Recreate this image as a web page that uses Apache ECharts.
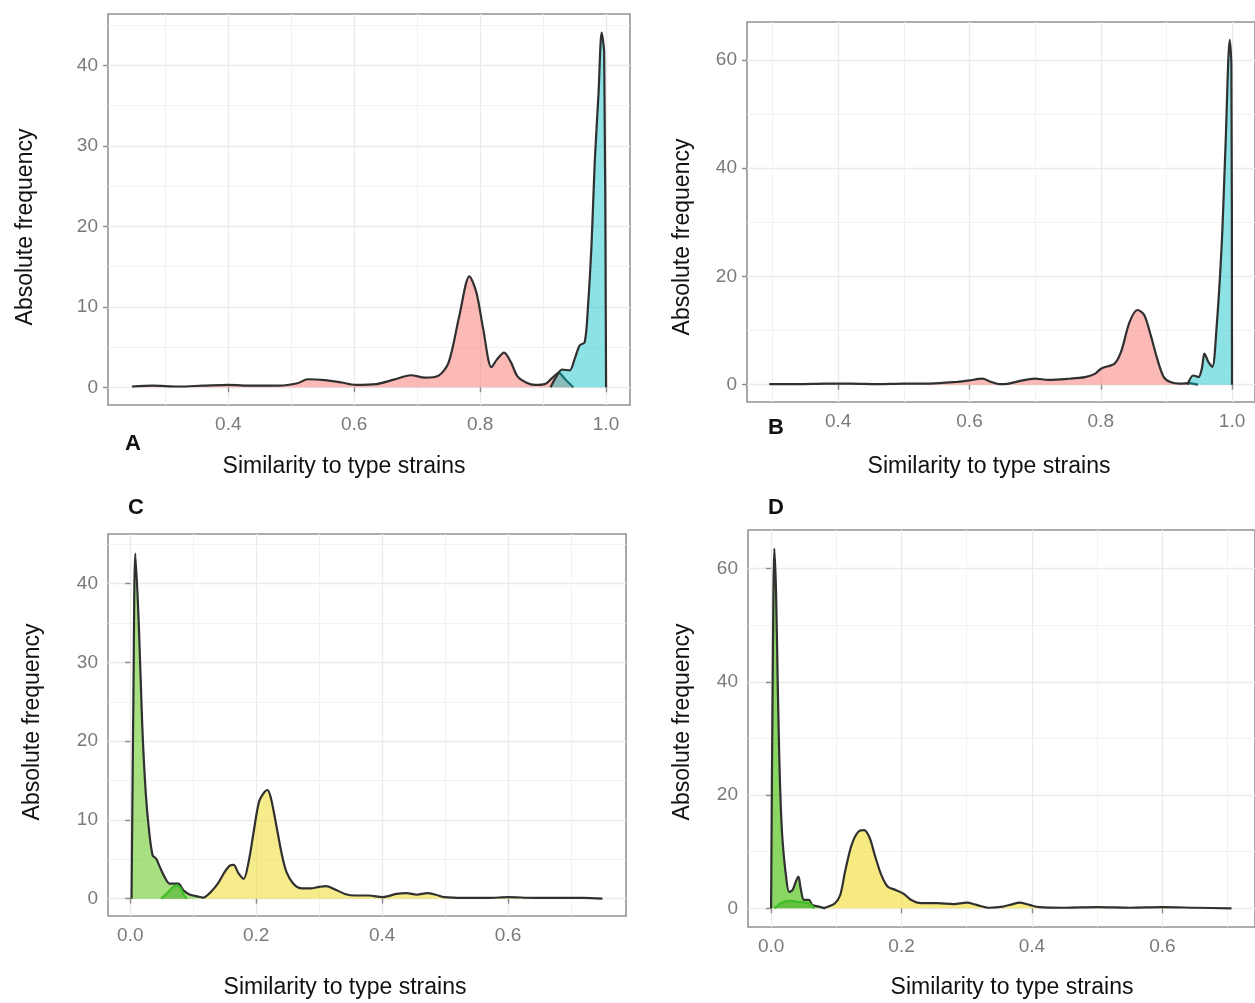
<!DOCTYPE html>
<html>
<head>
<meta charset="utf-8">
<title>Similarity to type strains</title>
<script src="https://cdn.jsdelivr.net/npm/echarts@6/dist/echarts.min.js"></script>
<style>
  html, body { margin: 0; padding: 0; background: #fff; }
  #chart { width: 1255px; height: 1003px; }
</style>
</head>
<body>
<div id="chart"></div>
<script>
// ---- data ----
// panel A
const pinkAX = [0.247, 0.28, 0.32, 0.36, 0.40, 0.44, 0.48, 0.51, 0.526, 0.553, 0.58, 0.602, 0.635, 0.663, 0.69, 0.712, 0.734, 0.75, 0.767, 0.783, 0.794, 0.805, 0.818, 0.827, 0.838, 0.849, 0.859, 0.873, 0.887, 0.903, 0.915, 0.925, 0.935, 0.948];
const pinkAY = [0.1, 0.2, 0.1, 0.2, 0.3, 0.2, 0.2, 0.5, 1.0, 0.9, 0.6, 0.3, 0.4, 0.95, 1.5, 1.2, 1.45, 3.1, 8.9, 13.8, 11.8, 7.2, 2.5, 3.5, 4.3, 3.1, 1.4, 0.6, 0.3, 0.4, 1.2, 1.8, 1.0, 0];
const cyanAX = [0.912, 0.92, 0.93, 0.942, 0.95, 0.958, 0.966, 0.971, 0.977, 0.982, 0.988, 0.993, 0.997, 1.0];
const cyanAY = [0, 1.2, 2.2, 2.1, 3.5, 5.2, 5.6, 9.7, 17.9, 28, 36.5, 44.1, 41.5, 0];

// panel B
const pinkBX = [0.295, 0.34, 0.38, 0.42, 0.46, 0.5, 0.54, 0.58, 0.6, 0.62, 0.631, 0.646, 0.66, 0.681, 0.7, 0.72, 0.751, 0.776, 0.791, 0.801, 0.821, 0.831, 0.844, 0.856, 0.866, 0.876, 0.886, 0.896, 0.906, 0.921, 0.936, 0.948];
const pinkBY = [0.1, 0.1, 0.2, 0.2, 0.1, 0.2, 0.2, 0.5, 0.8, 1.1, 0.6, 0.1, 0.2, 0.8, 1.1, 0.9, 1.1, 1.4, 2.0, 3.0, 3.9, 6.1, 11.6, 13.8, 12.9, 9.2, 4.8, 1.4, 0.5, 0.2, 0.3, 0];
const cyanBX = [0.932, 0.941, 0.949, 0.954, 0.958, 0.964, 0.97, 0.976, 0.984, 0.99, 0.9965, 0.999, 1.0];
const cyanBY = [0, 1.7, 1.4, 3.0, 5.75, 4.2, 3.3, 9.8, 25.2, 43.8, 63.7, 59, 0];

// panel C
const greenCX = [0.002, 0.005, 0.008, 0.0136, 0.019, 0.0245, 0.03, 0.0355, 0.041, 0.046, 0.0545, 0.0627, 0.076, 0.0845, 0.095, 0.106, 0.117];
const greenCY = [0, 26, 43.8, 34.7, 22, 13.5, 8.5, 5.5, 5.1, 4.2, 2.75, 1.9, 1.9, 1.06, 0.5, 0.3, 0.1];
const green2CX = [0.049, 0.06, 0.068, 0.074, 0.08, 0.085, 0.09];
const green2CY = [0, 0.8, 1.5, 1.7, 1.3, 0.5, 0];
const yellowCX = [0.117, 0.128, 0.139, 0.15, 0.158, 0.164, 0.172, 0.18, 0.188, 0.196, 0.2045, 0.2127, 0.218, 0.2236, 0.232, 0.24, 0.248, 0.259, 0.27, 0.286, 0.3, 0.311, 0.3245, 0.341, 0.357, 0.379, 0.401, 0.4227, 0.439, 0.455, 0.472, 0.485, 0.499, 0.53, 0.57, 0.6, 0.64, 0.68, 0.72, 0.75];
const yellowCY = [0.1, 0.85, 1.9, 3.4, 4.2, 4.3, 3.2, 2.5, 4.7, 8.5, 12.3, 13.5, 13.8, 12.7, 9.3, 5.9, 3.4, 1.9, 1.35, 1.3, 1.5, 1.6, 1.2, 0.6, 0.4, 0.4, 0.2, 0.6, 0.7, 0.5, 0.7, 0.5, 0.2, 0.1, 0.1, 0.2, 0.1, 0.1, 0.1, 0];

// panel D
const greenDX = [0.0, 0.0025, 0.005, 0.0076, 0.01, 0.0126, 0.015, 0.0177, 0.0227, 0.0277, 0.0328, 0.0378, 0.0419, 0.0454, 0.0504, 0.058, 0.063, 0.073, 0.083];
const greenDY = [0, 41, 63.5, 55.9, 41, 26.5, 17.6, 11.8, 5.9, 2.9, 3.2, 4.7, 5.6, 3.5, 1.5, 1.5, 0.6, 0.3, 0];
const green2DX = [0.005, 0.015, 0.028, 0.045, 0.058, 0.066];
const green2DY = [0, 0.9, 1.3, 1.1, 0.9, 0];
const yellowDX = [0.08, 0.088, 0.098, 0.106, 0.1135, 0.1235, 0.1336, 0.1427, 0.1513, 0.159, 0.169, 0.179, 0.1916, 0.204, 0.2143, 0.2295, 0.2547, 0.28, 0.3, 0.315, 0.335, 0.3555, 0.3706, 0.3807, 0.396, 0.411, 0.45, 0.5, 0.55, 0.6, 0.65, 0.706];
const yellowDY = [0, 0.3, 0.9, 2.35, 6.5, 11.2, 13.5, 13.8, 12.4, 9.4, 5.9, 3.8, 3.2, 2.5, 1.5, 0.9, 0.9, 0.75, 1.0, 0.6, 0.1, 0.3, 0.75, 1.0, 0.6, 0.2, 0.1, 0.2, 0.1, 0.2, 0.1, 0];

// tick values (major gridlines carry labels, minor ones are plain lines)
const xTicksAB = [0.4, 0.6, 0.8, 1.0];
const xMinorAB = [0.3, 0.5, 0.7, 0.9];
const xTicksCD = [0.0, 0.2, 0.4, 0.6];
const xMinorCD = [0.1, 0.3, 0.5, 0.7];
const yTicksAC = [0, 10, 20, 30, 40];
const yMinorAC = [5, 15, 25, 35, 45];
const yTicksBD = [0, 20, 40, 60];
const yMinorBD = [10, 30, 50];

const xTitle = 'Similarity to type strains';
const yTitle = 'Absolute frequency';

// ---- layout ----
const panels = [
  { left: 108, top: 14,  width: 522, height: 391, xMin: 0.209,  xMax: 1.038, yMin: -2.2, yMax: 46.4, xt: xTicksAB, xm: xMinorAB, yt: yTicksAC, ym: yMinorAC },
  { left: 747, top: 22,  width: 514, height: 380, xMin: 0.261,  xMax: 1.035, yMin: -3.2, yMax: 67.0, xt: xTicksAB, xm: xMinorAB, yt: yTicksBD, ym: yMinorBD },
  { left: 108, top: 534, width: 518, height: 382, xMin: -0.0354, xMax: 0.7874, yMin: -2.2, yMax: 46.3, xt: xTicksCD, xm: xMinorCD, yt: yTicksAC, ym: yMinorAC },
  { left: 748, top: 530, width: 514, height: 397, xMin: -0.0354, xMax: 0.742, yMin: -3.3, yMax: 66.8, xt: xTicksCD, xm: xMinorCD, yt: yTicksBD, ym: yMinorBD }
];

const FONT = '"Liberation Sans", Arial, Helvetica, sans-serif';
const tickColor = '#8a8a8a';
const labelColor = '#7a7a7a';

const grids = [], xAxes = [], yAxes = [];
panels.forEach((p, i) => {
  grids.push({
    left: p.left, top: p.top, width: p.width, height: p.height,
    show: true, backgroundColor: '#fff', borderColor: '#939393', borderWidth: 1.6
  });
  // major
  xAxes.push({
    gridIndex: i, type: 'value', min: p.xMin, max: p.xMax,
    axisLine: { show: false },
    axisTick: { show: true, customValues: p.xt, length: 5, lineStyle: { color: tickColor, width: 1.4 } },
    axisLabel: { customValues: p.xt, fontSize: 19, fontFamily: FONT, color: labelColor, margin: 10,
                 formatter: v => Number(v).toFixed(1) },
    splitLine: { show: true, lineStyle: { color: '#ebebeb', width: 1.3 } }
  });
  // minor
  xAxes.push({
    gridIndex: i, type: 'value', min: p.xMin, max: p.xMax, position: 'top',
    axisLine: { show: false }, axisTick: { show: false, customValues: p.xm },
    axisLabel: { show: false, customValues: p.xm },
    splitLine: { show: true, lineStyle: { color: '#f2f2f2', width: 1 } }
  });
  yAxes.push({
    gridIndex: i, type: 'value', min: p.yMin, max: p.yMax,
    axisLine: { show: false },
    axisTick: { show: true, customValues: p.yt, length: 5, lineStyle: { color: tickColor, width: 1.4 } },
    axisLabel: { customValues: p.yt, fontSize: 19, fontFamily: FONT, color: labelColor, margin: 10 },
    splitLine: { show: true, lineStyle: { color: '#ebebeb', width: 1.3 } }
  });
  yAxes.push({
    gridIndex: i, type: 'value', min: p.yMin, max: p.yMax, position: 'right',
    axisLine: { show: false }, axisTick: { show: false, customValues: p.ym },
    axisLabel: { show: false, customValues: p.ym },
    splitLine: { show: true, lineStyle: { color: '#f2f2f2', width: 1 } }
  });
});

function zip(xs, ys) { return xs.map((x, k) => [x, ys[k]]); }

function density(panel, xs, ys, fill, opacity, line, z) {
  return {
    type: 'line', xAxisIndex: panel * 2, yAxisIndex: panel * 2,
    data: zip(xs, ys), smooth: 0.3, symbol: 'none', silent: true, z: z,
    lineStyle: { color: line || '#303030', width: 2.2 },
    areaStyle: { color: fill, opacity: opacity }
  };
}

const series = [
  density(0, pinkAX, pinkAY, '#F8766D', 0.5, null, 2),
  density(0, cyanAX, cyanAY, '#00BFC4', 0.45, null, 3),
  density(1, pinkBX, pinkBY, '#F8766D', 0.5, null, 2),
  density(1, cyanBX, cyanBY, '#00BFC4', 0.45, null, 3),
  density(2, greenCX, greenCY, '#5CC61A', 0.55, null, 2),
  density(2, yellowCX, yellowCY, '#F0DC2D', 0.55, null, 2),
  density(2, green2CX, green2CY, '#3DA51E', 0.5, '#3fbf25', 3),
  density(3, greenDX, greenDY, '#4CC010', 0.65, null, 2),
  density(3, yellowDX, yellowDY, '#F0DC2D', 0.6, null, 2),
  density(3, green2DX, green2DY, '#3DA51E', 0.5, '#3fbf25', 3)
];

// ---- texts: axis titles and panel letters ----
function txt(x, y, text, size, bold, rot) {
  return {
    type: 'text', x: x, y: y, rotation: rot ? Math.PI / 2 : 0, silent: true,
    style: { text: text, fill: '#111', font: (bold ? 'bold ' : '') + size + 'px ' + FONT,
             textAlign: 'center', textVerticalAlign: 'middle' }
  };
}
const texts = [
  txt(344, 467, xTitle, 23), txt(989, 467, xTitle, 23),
  txt(345, 988, xTitle, 23), txt(1012, 988, xTitle, 23),
  txt(26, 227, yTitle, 23, false, true), txt(683, 237, yTitle, 23, false, true),
  txt(33, 722, yTitle, 23, false, true), txt(683, 722, yTitle, 23, false, true),
  txt(133, 444, 'A', 22, true), txt(776, 428, 'B', 22, true),
  txt(136, 508, 'C', 22, true), txt(776, 508, 'D', 22, true)
];

const chart = echarts.init(document.getElementById('chart'));
chart.setOption({
  animation: false,
  backgroundColor: '#fff',
  grid: grids,
  xAxis: xAxes,
  yAxis: yAxes,
  series: series,
  graphic: texts
});
</script>
</body>
</html>
